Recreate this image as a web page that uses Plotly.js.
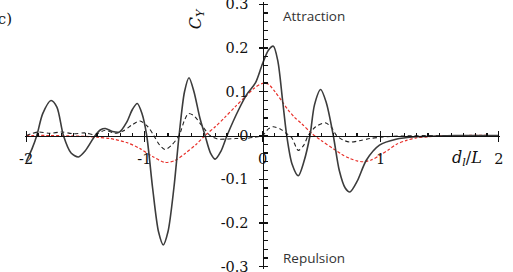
<!DOCTYPE html>
<html>
<head>
<meta charset="utf-8">
<script src="https://cdn.plot.ly/plotly-3.0.1.min.js"></script>
<style>html,body{margin:0;padding:0;background:#fff;}#chart{width:513px;height:272px;}</style>
</head>
<body>
<div id="chart"></div>
<script>
// Solid curve (C_Y, full)
const solidX = [-2.0,-1.95,-1.91,-1.86,-1.79,-1.74,-1.685,-1.62,-1.558,-1.50,-1.416,-1.37,-1.33,-1.27,-1.21,-1.15,-1.10,-1.06,-1.02,-0.98,-0.93,-0.88,-0.84,-0.80,-0.75,-0.706,-0.66,-0.622,-0.58,-0.53,-0.486,-0.44,-0.40,-0.35,-0.30,-0.20,-0.13,-0.06,0.0,0.05,0.092,0.13,0.17,0.205,0.25,0.303,0.35,0.402,0.44,0.492,0.54,0.599,0.65,0.70,0.74,0.80,0.88,0.99,1.13,1.30,1.5,1.75,2.0];
const solidY = [-0.06,-0.03,0.0,0.05,0.08,0.065,0.0,-0.04,-0.049,-0.035,0.0,0.013,0.016,0.009,0.008,0.03,0.06,0.073,0.05,0.0,-0.12,-0.22,-0.25,-0.22,-0.12,0.0,0.10,0.132,0.10,0.04,0.0,-0.04,-0.054,-0.035,0.0,0.06,0.095,0.12,0.164,0.195,0.204,0.17,0.08,0.0,-0.065,-0.092,-0.06,0.0,0.07,0.105,0.075,0.0,-0.08,-0.12,-0.129,-0.105,-0.056,-0.022,-0.0085,-0.003,-0.001,0.0,0.0];
// Dashed black curve
const dashX = [-2.0,-1.9,-1.8,-1.7,-1.6,-1.5,-1.42,-1.33,-1.25,-1.18,-1.10,-1.036,-0.97,-0.92,-0.87,-0.825,-0.77,-0.706,-0.66,-0.627,-0.58,-0.52,-0.444,-0.38,-0.30,-0.23,-0.15,-0.07,0.0,0.05,0.09,0.15,0.20,0.247,0.303,0.35,0.387,0.45,0.529,0.58,0.627,0.68,0.74,0.82,0.909,1.0,1.1,1.2,1.5,2.0];
const dashY = [0.0,0.008,0.005,0.008,0.004,0.006,0.002,0.012,0.005,0.01,0.025,0.033,0.02,0.0,-0.022,-0.032,-0.022,0.0,0.035,0.05,0.045,0.025,0.0,-0.008,-0.008,-0.007,-0.007,-0.004,0.0,0.015,0.02,0.015,0.005,-0.005,-0.034,-0.022,0.0,0.02,0.029,0.02,0.0,-0.01,-0.015,-0.012,-0.007,-0.004,-0.002,-0.001,0.0,0.0];
// Red dashed curve
const redX = [-2.0,-1.8,-1.6,-1.5,-1.4,-1.29,-1.15,-1.036,-0.93,-0.825,-0.74,-0.655,-0.56,-0.486,-0.40,-0.317,-0.23,-0.148,-0.07,0.0,0.05,0.106,0.16,0.218,0.27,0.331,0.416,0.50,0.599,0.67,0.74,0.80,0.852,0.92,0.994,1.07,1.135,1.22,1.30,1.4,1.5,1.7,2.0];
const redY = [0.0,0.0,-0.001,-0.002,-0.004,-0.007,-0.016,-0.030,-0.048,-0.0615,-0.057,-0.041,-0.02,0.0,0.02,0.042,0.066,0.088,0.108,0.119,0.117,0.100,0.080,0.058,0.042,0.027,0.005,-0.012,-0.030,-0.043,-0.0525,-0.058,-0.060,-0.056,-0.045,-0.032,-0.020,-0.011,-0.0055,-0.003,-0.001,0.0,0.0];
// Tick labels
const xTickVals = [-2,-1,0,1,2];
const xTickText = ["-2","-1","0","1","2"];
const yTickVals = [-0.3,-0.2,-0.1,0,0.1,0.2,0.3];
const yTickText = ["-0.3","-0.2","-0.1","0","0.1","0.2","0.3"];

const serif = "DejaVu Serif";
const XR = [-2.01, 2.01];
const YR = [-0.305, 0.305];
const traces = [
  {x: redX, y: redY, mode:'lines', line:{color:'#e8302a', width:1.2, dash:'3px,2px', shape:'spline', smoothing:0.8}, hoverinfo:'skip'},
  {x: dashX, y: dashY, mode:'lines', line:{color:'#222', width:1.1, dash:'4px,3px', shape:'spline', smoothing:0.8}, hoverinfo:'skip'},
  {x: solidX, y: solidY, mode:'lines', line:{color:'#3c3c3c', width:1.6, shape:'spline', smoothing:0.8}, hoverinfo:'skip'},
  {x:[null], y:[null], xaxis:'x2', yaxis:'y2', mode:'lines', hoverinfo:'skip'},
  {x:[null], y:[null], xaxis:'x3', yaxis:'y3', mode:'lines', hoverinfo:'skip'}
];
const axBase = {showgrid:false, zeroline:false, showline:true, linecolor:'#111', linewidth:1.2, tickcolor:'#111', tickwidth:1.2, anchor:'free', position:0.5, ticklabeloverflow:'allow'};
const layout = {
  width:513, height:272, showlegend:false,
  font:{family:serif, size:14.5, color:'#111'},
  margin:{l:24.8, r:12.8, t:1.8, b:3.1, pad:0},
  paper_bgcolor:'#fff', plot_bgcolor:'rgba(0,0,0,0)',
  // major ticks, inner side
  xaxis: Object.assign({}, axBase, {range:XR, tickmode:'linear', tick0:0, dtick:1, ticks:'inside', ticklen:5, showticklabels:false, showline:false}),
  yaxis: Object.assign({}, axBase, {range:YR, tickmode:'linear', tick0:0, dtick:0.1, ticks:'inside', ticklen:4, showticklabels:false, showline:false}),
  // major ticks, outer side, with labels and axis lines
  xaxis2: Object.assign({}, axBase, {overlaying:'x', range:XR, tickmode:'array', tickvals:xTickVals, ticktext:xTickText, ticks:'outside', ticklen:5,
    tickfont:{family:serif, size:14.5, color:'#111'}, ticklabelstandoff:5}),
  yaxis2: Object.assign({}, axBase, {overlaying:'y', range:YR, tickmode:'array', tickvals:yTickVals, ticktext:yTickText, ticks:'outside', ticklen:4,
    tickfont:{family:serif, size:14.5, color:'#111'}, ticklabelstandoff:7}),
  // minor ticks
  xaxis3: Object.assign({}, axBase, {overlaying:'x', showline:false, range:XR, tickmode:'linear', tick0:0, dtick:0.1, ticks:'inside', ticklen:3, showticklabels:false}),
  yaxis3: Object.assign({}, axBase, {overlaying:'y', showline:false, range:YR, tickmode:'linear', tick0:0, dtick:0.02, ticks:'inside', ticklen:4, showticklabels:false}),
  annotations:[
    {text:'Attraction', x:0.156, y:0.272, xref:'x', yref:'y', xanchor:'left', yanchor:'middle', showarrow:false, font:{family:'Open Sans', size:13.5, color:'#333'}},
    {text:'Repulsion', x:0.156, y:-0.28, xref:'x', yref:'y', xanchor:'left', yanchor:'middle', showarrow:false, font:{family:'Open Sans', size:13.5, color:'#333'}},
    {text:'<i>C</i><sub><i>Y</i></sub>', x:-0.562, y:0.266, xref:'x', yref:'y', xanchor:'center', yanchor:'middle', textangle:-90, showarrow:false, font:{family:serif, size:16, color:'#111'}},
    {text:'<i>d</i><sub><i>l</i></sub>/<i>L</i>', x:1.729, y:-0.052, xref:'x', yref:'y', xanchor:'center', yanchor:'middle', showarrow:false, font:{family:serif, size:16, color:'#111'}},
    {text:'(c)', x:-0.048, y:0.935, xref:'paper', yref:'paper', xanchor:'center', yanchor:'middle', showarrow:false, font:{family:serif, size:15, color:'#111'}}
  ]
};
Plotly.newPlot('chart', traces, layout, {staticPlot:true, displayModeBar:false});
</script>
</body>
</html>
